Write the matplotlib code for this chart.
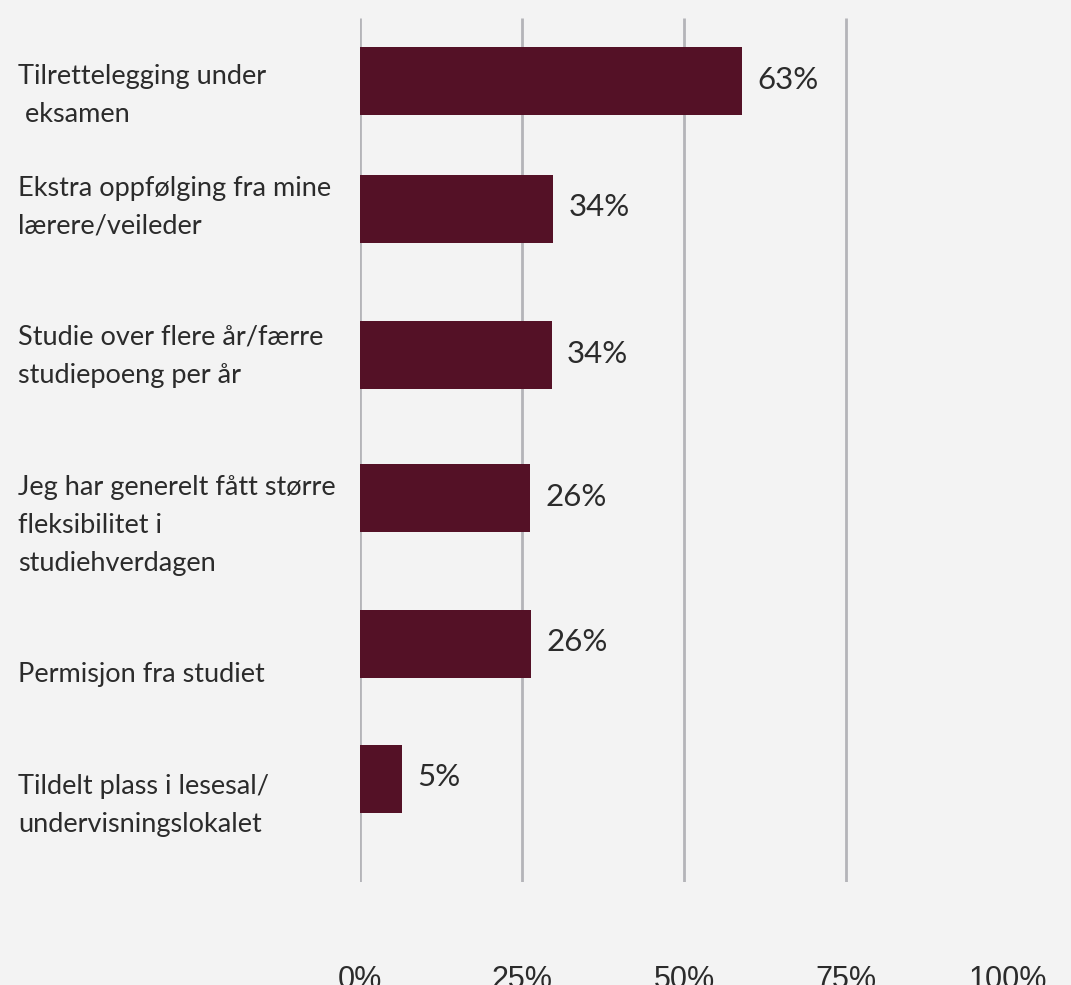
import matplotlib
matplotlib.use("Agg")
import matplotlib.pyplot as plt
import matplotlib.transforms as mtransforms

# ---- data ----
categories = [
    "Tilrettelegging under\n eksamen",
    "Ekstra oppfølging fra mine\nlærere/veileder",
    "Studie over flere år/færre\nstudiepoeng per år",
    "Jeg har generelt fått større\nfleksibilitet i\nstudiehverdagen",
    "Permisjon fra studiet",
    "Tildelt plass i lesesal/\nundervisningslokalet",
]
value_labels = ["63%", "34%", "34%", "26%", "26%", "5%"]
bar_lengths = [59.0, 29.8, 29.6, 26.2, 26.4, 6.5]   # as drawn in the picture
tick_values = [0, 25, 50, 75, 100]
tick_labels = ["0%", "25%", "50%", "75%", "100%"]
grid_values = [0, 25, 50, 75]

# ---- layout (pixel-based) ----
W, H = 1071, 985
DPI = 100
bar_centers = [81, 208.5, 355, 498, 643.5, 778.5]
label_centers = [95, 207, 356, 525, 674, 805]
bar_height = 68

BG = "#f3f3f3"
BAR = "#541126"
TXT = "#2b2b2b"
GRID = "#b4b4b8"

fig = plt.figure(figsize=(W / DPI, H / DPI), dpi=DPI, facecolor=BG)
ax_left, ax_right = 360, 1008
ax_top, ax_bot = 18, 882
ax = fig.add_axes([ax_left / W, 1 - ax_bot / H, (ax_right - ax_left) / W, (ax_bot - ax_top) / H])
ax.set_facecolor(BG)
ax.set_xlim(0, 100)
ax.set_ylim(ax_bot, ax_top)

ax.vlines(grid_values, ax_top, ax_bot, colors=GRID, linewidth=2, zorder=1)
ax.barh(bar_centers, bar_lengths, height=bar_height, color=BAR, zorder=2)

for y, v, lab in zip(bar_centers, bar_lengths, value_labels):
    ax.annotate(lab, xy=(v, y), xytext=(11, 1), textcoords="offset points",
                ha="left", va="center", fontsize=22.5, color=TXT, family=["Lato", "DejaVu Sans"])

trans = mtransforms.blended_transform_factory(fig.transFigure, ax.transData)
for y, cat in zip(label_centers, categories):
    ax.text(18 / W, y, cat, transform=trans, ha="left", va="center", fontsize=19.5,
            color=TXT, linespacing=1.65, family=["Lato", "DejaVu Sans"], clip_on=False)

for s in ax.spines.values():
    s.set_visible(False)
ax.set_yticks([])
ax.set_xticks(tick_values)
ax.set_xticklabels(tick_labels, family=["Liberation Sans Narrow", "Liberation Sans"],
                   fontsize=22, color=TXT)
ax.tick_params(axis="x", length=0, pad=60)

fig.savefig("out.png", dpi=DPI, facecolor=BG)
